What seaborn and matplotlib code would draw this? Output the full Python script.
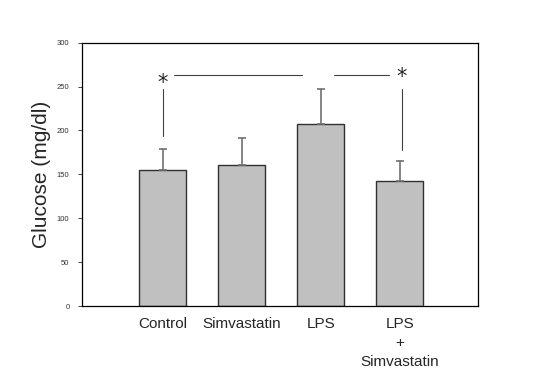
import numpy as np
import pandas as pd
import seaborn as sns
import matplotlib
matplotlib.use('Agg')
import matplotlib.pyplot as plt

sns.set_style('white')
plt.rcParams['font.family'] = ['Liberation Sans', 'DejaVu Sans']

groups = ['Control', 'Simvastatin', 'LPS', 'LPS\n+\nSimvastatin']
glucose = [155, 161, 207, 143]
err_up = [23.5, 30.5, 40, 22.5]

df = pd.DataFrame({'group': groups, 'glucose': glucose})

fig = plt.figure(figsize=(5.5, 3.79), dpi=100)
ax = fig.add_axes([0.149, 0.1926, 0.72, 0.6947])

sns.barplot(data=df, x='group', y='glucose', color='#c0c0c0', saturation=1,
            edgecolor='#303030', linewidth=1, width=0.6, errorbar=None, ax=ax)
ax.errorbar(range(len(groups)), glucose, yerr=[np.zeros(len(groups)), err_up],
            fmt='none', ecolor='#707070', elinewidth=1.2, capsize=3, capthick=1.2)

# significance markers
ax.plot([0, 0], [194, 247], color='#404040', lw=0.8)
ax.plot([0.15, 1.76], [263, 263], color='#404040', lw=0.8)
ax.plot([2.17, 2.87], [263, 263], color='#404040', lw=0.8)
ax.plot([3.03, 3.03], [178, 247], color='#404040', lw=0.8)
ax.text(0, 254, '*', ha='center', va='center', fontsize=15, family='DejaVu Sans')
ax.text(3.03, 261, '*', ha='center', va='center', fontsize=15, family='DejaVu Sans')

ax.set_xlim(-1.02, 3.99)
ax.set_ylim(0, 300)
ax.set_yticks([0, 50, 100, 150, 200, 250, 300])
ax.tick_params(axis='y', labelsize=5.5, labelcolor='#333333', length=3, width=0.6,
               left=True, direction='out', pad=6)
ax.tick_params(axis='x', labelsize=11, length=0, pad=8)
for lbl in ax.get_xticklabels():
    lbl.set_linespacing(1.45)
ax.set_xlabel('')
ax.set_ylabel('Glucose (mg/dl)', fontsize=15, labelpad=4)
for s in ax.spines.values():
    s.set_color('black')
    s.set_linewidth(0.9)

plt.savefig('out.png', dpi=100)
